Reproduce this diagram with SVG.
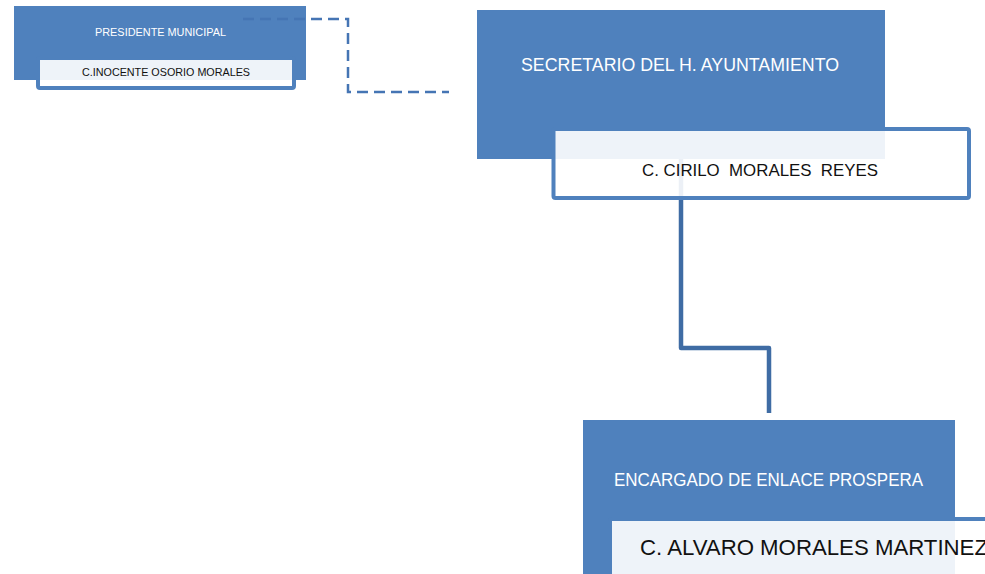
<svg xmlns="http://www.w3.org/2000/svg" width="985" height="574" viewBox="0 0 985 574">
<style>
.box{fill:#4F81BD}
.card{fill:#FFFFFF;fill-opacity:0.9;stroke:#4F81BD;stroke-width:4}
.t{font-family:"Liberation Sans",Arial,sans-serif}
.w{fill:#FFFFFF}
.k{fill:#111111}
.link{fill:none;stroke:#3F6CA4;stroke-width:4.5;stroke-linejoin:round}
.dash{fill:none;stroke:#4575B4;stroke-width:2.5;stroke-dasharray:11 6}
</style>
<rect width="985" height="574" fill="#FFFFFF"/>
<g id="node-presidente">
<rect class="box" x="14" y="6" width="292" height="74"/>
<rect class="card" x="38" y="58" width="256" height="30" rx="2"/>
<text class="t w" x="95" y="36" font-size="10" textLength="131" lengthAdjust="spacingAndGlyphs">PRESIDENTE MUNICIPAL</text>
<text class="t k" x="82" y="76" font-size="11.5" textLength="168" lengthAdjust="spacingAndGlyphs">C.INOCENTE OSORIO MORALES</text>
</g>
<g id="connectors">
<path class="dash" d="M243,19 H348 V92 H449"/>
<path class="link" d="M681,159 V348 H769 V413"/>
</g>
<g id="node-secretario">
<rect class="box" x="477" y="10" width="408" height="149"/>
<rect class="card" x="553.5" y="129" width="415.5" height="69" rx="2"/>
<text class="t w" x="521" y="71" font-size="19" textLength="318" lengthAdjust="spacingAndGlyphs">SECRETARIO DEL H. AYUNTAMIENTO</text>
<text class="t k" x="642" y="176" font-size="17" textLength="236" lengthAdjust="spacingAndGlyphs" xml:space="preserve">C. CIRILO  MORALES  REYES</text>
</g>
<g id="node-encargado">
<rect class="box" x="583" y="420" width="372" height="160"/>
<rect class="card" x="610" y="519" width="400" height="70" rx="2"/>
<text class="t w" x="614" y="486" font-size="17.5" textLength="309" lengthAdjust="spacingAndGlyphs">ENCARGADO DE ENLACE PROSPERA</text>
<text class="t k" x="640" y="555" font-size="22" textLength="348" lengthAdjust="spacingAndGlyphs">C. ALVARO MORALES MARTINEZ</text>
</g>
</svg>
